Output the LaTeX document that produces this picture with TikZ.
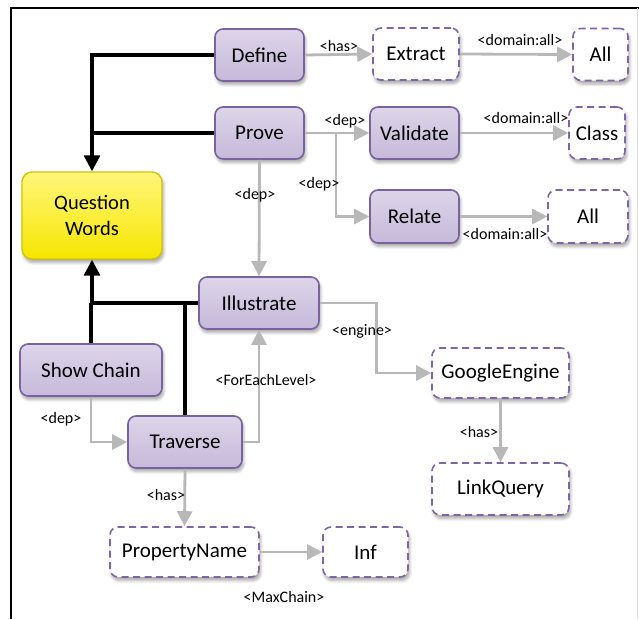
\documentclass[tikz,border=0pt]{standalone}
\usepackage{fontspec}
\setmainfont{Carlito}
\usetikzlibrary{arrows.meta,shadows.blur,calc}

\definecolor{boxfilltop}{HTML}{DDD5E9}
\definecolor{boxfillbot}{HTML}{C6B9DA}
\definecolor{boxline}{HTML}{7A62A0}
\definecolor{dashline}{HTML}{7E66A6}
\definecolor{qwtop}{HTML}{FFF67A}
\definecolor{qwbot}{HTML}{F6E600}
\definecolor{qwline}{HTML}{D2C400}
\definecolor{linkgray}{HTML}{B8B8B8}

\tikzset{
  x=1pt, y=-1pt,
  softshadow/.style={blur shadow={shadow xshift=1.5pt, shadow yshift=-3.5pt,
      shadow blur steps=6, shadow blur radius=3pt, shadow opacity=35}},
  solidbox/.style={rectangle, rounded corners=8pt, line width=1.6pt, draw=boxline,
      top color=boxfilltop, bottom color=boxfillbot, softshadow,
      inner sep=0pt, font=\fontsize{21}{24}\selectfont},
  dashbox/.style={rectangle, rounded corners=8pt, line width=1.6pt, draw=dashline,
      dash pattern=on 7pt off 4.5pt, fill=white, softshadow,
      inner sep=0pt, font=\fontsize{21}{24}\selectfont},
  qwbox/.style={rectangle, rounded corners=10pt, line width=1.4pt, draw=qwline,
      top color=qwtop, bottom color=qwbot, softshadow,
      inner sep=0pt, align=center, font=\fontsize{20.5}{26}\selectfont},
  rel/.style={draw=linkgray, line width=2.8pt,
      -{Triangle[length=15pt,width=15pt]}},
  ctrl/.style={draw=black, line width=3.2pt,
      -{Triangle[length=16pt,width=16pt]}},
  ctrlplain/.style={draw=black, line width=3.2pt},
  lbl/.style={inner sep=0pt, font=\fontsize{16}{18}\selectfont},
}

\begin{document}
\begin{tikzpicture}
\useasboundingbox (0,0) rectangle (639,619);

% frame
\draw[line width=2.4pt] (11,619) -- (11,8) -- (639,8);
\draw[line width=1pt, draw=black!12] (637.5,8) -- (637.5,619);

% main nodes
\node[qwbox, minimum width=140pt, minimum height=87pt] (qw) at (92,215.5) {Question\\Words};
\node[solidbox, minimum width=89pt, minimum height=52pt] (define) at (259.5,55) {Define};
\node[solidbox, minimum width=89pt, minimum height=52pt] (prove) at (259.5,133) {Prove};
\node[dashbox, minimum width=86pt, minimum height=52pt] (extract) at (416,54) {Extract};
\node[dashbox, minimum width=55pt, minimum height=52pt] (alltop) at (600.5,54.5) {All};
\node[solidbox, minimum width=89pt, minimum height=52pt] (validate) at (414.5,133) {Validate};
\node[dashbox, minimum width=56pt, minimum height=52pt] (class) at (597,133) {Class};
\node[solidbox, minimum width=89pt, minimum height=53pt] (relate) at (414.5,216.5) {Relate};
\node[dashbox, minimum width=80pt, minimum height=53pt] (allmid) at (588,216.5) {All};
\node[solidbox, minimum width=120pt, minimum height=52pt] (illus) at (259,303) {Illustrate};
\node[solidbox, minimum width=142pt, minimum height=52pt] (show) at (91,370) {Show Chain};
\node[solidbox, minimum width=114pt, minimum height=52pt] (trav) at (185,442) {Traverse};
\node[dashbox, minimum width=149pt, minimum height=50pt] (prop) at (184.5,552) {PropertyName};
\node[dashbox, minimum width=85pt, minimum height=50pt] (inf) at (365.5,552) {Inf};
\node[dashbox, minimum width=137pt, minimum height=50pt] (google) at (500.5,373) {GoogleEngine};
\node[dashbox, minimum width=137pt, minimum height=52pt] (link) at (500.5,489) {LinkQuery};

% control flow into the question words
\draw[ctrl] (define.west) -| (qw.north);
\draw[ctrlplain] (prove.west) -- (prove.west -| qw.north);
\draw[ctrl] (illus.west) -| (qw.south);
\draw[ctrlplain] (show.north) -- (show.north |- illus.west);
\draw[ctrlplain] (trav.north) -- (trav.north |- illus.west);

% relations
\coordinate (branch) at (336,133);
\draw[rel] (define.east) -- (extract.west);
\draw[rel] (extract.east) -- (alltop.west);
\draw[rel] (prove.east) -- (validate.west);
\draw[rel] (branch) |- (relate.west);
\draw[rel] (validate.east) -- (class.west);
\draw[rel] (relate.east) -- (allmid.west);
\draw[rel] (prove.south) -- (illus.north);
\draw[rel] (illus.east) -- ++(57,0) |- (google.west);
\draw[rel] (google.south) -- (link.north);
\draw[rel] (show.south) |- (trav.west);
\draw[rel] (trav.east) -| (illus.south);
\draw[rel] (trav.south) -- (prop.north);
\draw[rel] (prop.east) -- (inf.west);

% relation labels
\node[lbl] (l1) at (339,46) {<has>};
\node[lbl] (l2) at (520,40) {<domain:all>};
\node[lbl] (l3) at (345,121) {<dep>};
\node[lbl] (l4) at (319,184) {<dep>};
\node[lbl] (l5) at (526,118) {<domain:all>};
\node[lbl] (l6) at (505,234) {<domain:all>};
\node[lbl] (l7) at (255,195) {<dep>};
\node[lbl] (l8) at (362,331) {<engine>};
\node[lbl] (l9) at (479,432) {<has>};
\node[lbl] (l10) at (61,419) {<dep>};
\node[lbl] (l11) at (266,380) {<ForEachLevel>};
\node[lbl] (l12) at (166,495) {<has>};
\node[lbl] (l13) at (284,597) {<MaxChain>};
\end{tikzpicture}
\end{document}
